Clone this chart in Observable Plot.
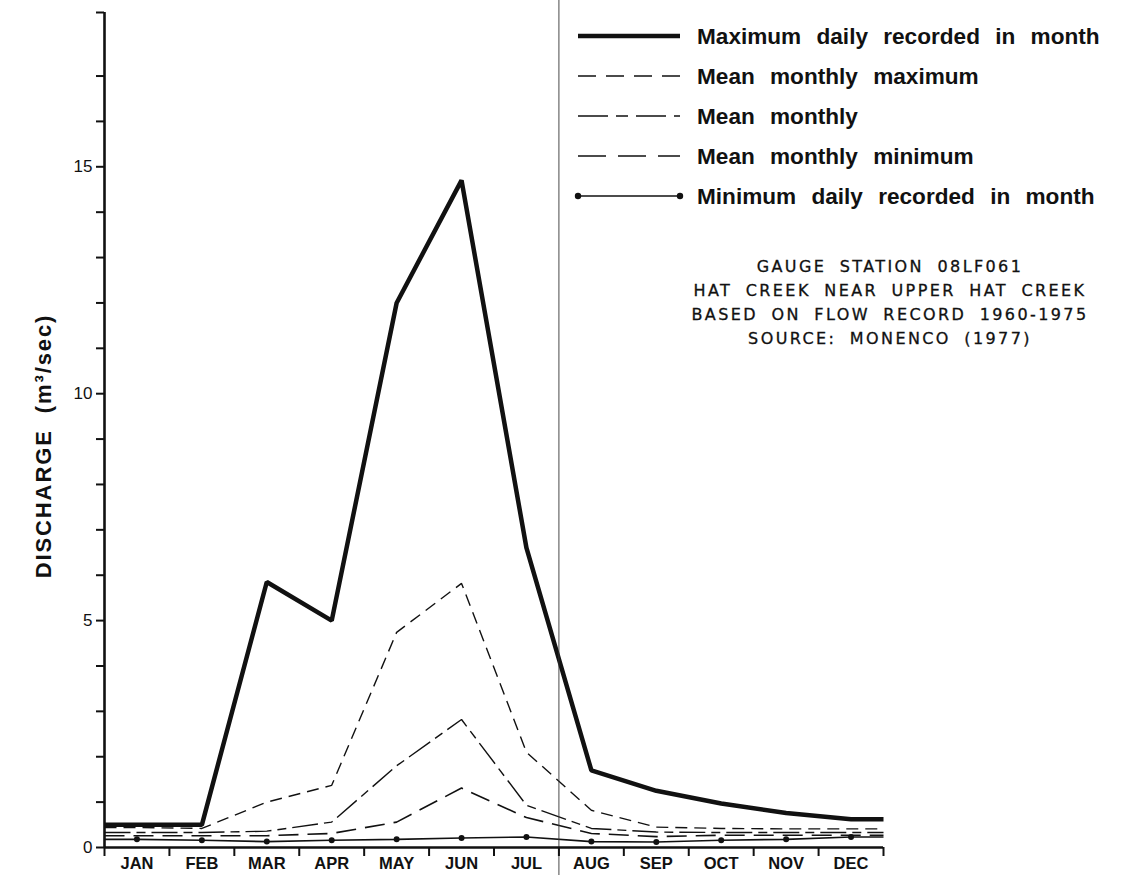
<!DOCTYPE html>
<html><head><meta charset="utf-8">
<script src="https://cdn.jsdelivr.net/npm/d3@7"></script>
<script src="https://cdn.jsdelivr.net/npm/@observablehq/plot@0.6"></script>
<style>
html,body{margin:0;padding:0;background:#fff;}
#wrap{position:relative;width:1144px;height:875px;overflow:hidden;}
#wrap svg{display:block;}
#overlay{position:absolute;left:0;top:0;pointer-events:none;}
</style></head>
<body><div id="wrap"></div>
<script>
// ---- data ----
const months = ["JAN","FEB","MAR","APR","MAY","JUN","JUL","AUG","SEP","OCT","NOV","DEC"];
const maxDaily       = [0.50, 0.50, 5.85, 5.00, 12.0, 14.7, 6.60, 1.70, 1.25, 0.97, 0.76, 0.62];
const meanMonthlyMax = [0.44, 0.42, 1.00, 1.37, 4.74, 5.82, 2.10, 0.82, 0.45, 0.42, 0.41, 0.41];
const meanMonthly    = [0.33, 0.33, 0.36, 0.56, 1.80, 2.82, 0.93, 0.42, 0.34, 0.33, 0.33, 0.33];
const meanMonthlyMin = [0.26, 0.26, 0.26, 0.31, 0.56, 1.31, 0.66, 0.31, 0.24, 0.27, 0.27, 0.27];
const minDaily       = [0.18, 0.16, 0.13, 0.16, 0.18, 0.21, 0.23, 0.13, 0.12, 0.16, 0.18, 0.23];
const seriesNames = [
  "Maximum daily recorded in month",
  "Mean monthly maximum",
  "Mean monthly",
  "Mean monthly minimum",
  "Minimum daily recorded in month"
];
const yTickValues = [0,1,2,3,4,5,6,7,8,9,10,11,12,13,14,15,16,17];
const yLabelValues = [0,5,10,15];
const yTop = 18.4;
const noteLines = [
  "GAUGE STATION 08LF061",
  "HAT CREEK NEAR UPPER HAT CREEK",
  "BASED ON FLOW RECORD 1960-1975",
  "SOURCE: MONENCO (1977)"
];
const yTitle = "DISCHARGE  (m\u00B3/sec)";

// ---- styles ----
const seriesArrays = [maxDaily, meanMonthlyMax, meanMonthly, meanMonthlyMin, minDaily];
const styles = [
  {strokeWidth: 4.5, dash: null, legendDash: null},
  {strokeWidth: 1.4, dash: "12,7", legendDash: "18,10"},
  {strokeWidth: 1.4, dash: "26,6,9,6", legendDash: "30,8,12,8"},
  {strokeWidth: 1.6, dash: "20,9", legendDash: "28,12"},
  {strokeWidth: 1.6, dash: null, legendDash: null}
];

// line rows: monthly points, extended flat to the axis edges
function rowsOf(arr) {
  const r = arr.map((v, i) => ({x: i + 1, y: v}));
  return [{x: 0.5, y: arr[0]}, ...r, {x: 12.5, y: arr[arr.length - 1]}];
}
const boundaries = d3.range(0.5, 13, 1);
const monthPos = months.map((m, i) => i + 1);

const W = 1144, H = 875;
const mL = 104, mR = 261, mT = 12, mB = 28;

const marks = [];
seriesArrays.forEach((arr, k) => {
  marks.push(Plot.line(rowsOf(arr), {
    x: "x", y: "y", stroke: "#111", strokeWidth: styles[k].strokeWidth,
    strokeDasharray: styles[k].dash, strokeLinejoin: "miter", strokeLinecap: "butt"
  }));
});
marks.push(Plot.dot(minDaily.map((v, i) => ({x: i + 1, y: v})), {x: "x", y: "y", r: 3, fill: "#111", stroke: "none"}));
// vertical divider
marks.push(Plot.ruleX([7.5], {stroke: "#333", strokeWidth: 0.9, insetTop: -12, insetBottom: -28}));
// axes lines
marks.push(Plot.ruleY([0], {stroke: "#111", strokeWidth: 2.6}));
marks.push(Plot.ruleX([0.5], {stroke: "#111", strokeWidth: 2.6}));
marks.push(Plot.axisY({ticks: [...yTickValues, yTop], tickSize: 8, strokeWidth: 2,
  tickFormat: d => yLabelValues.includes(d) ? String(d) : "", fontSize: 17, tickPadding: 4,
  fontFamily: "Liberation Sans", label: null}));
marks.push(Plot.axisX({ticks: boundaries, tickSize: 9, strokeWidth: 2, tickFormat: () => "", label: null}));
marks.push(Plot.axisX({ticks: monthPos, tickSize: 0, tickPadding: 10, tickFormat: d => months[d - 1],
  fontSize: 16.5, fontWeight: "bold", fontFamily: "Liberation Sans", label: null}));
marks.push(Plot.text([yTitle], {frameAnchor: "left", textAnchor: "middle", rotate: -90, dx: -61, dy: 16,
  fontSize: 22, fontWeight: "bold", fontFamily: "Liberation Sans", fill: "#111"}));

const chart = Plot.plot({
  width: W, height: H,
  marginLeft: mL, marginRight: mR, marginTop: mT, marginBottom: mB,
  style: {background: "#fff", color: "#111", fontFamily: "Liberation Sans"},
  x: {type: "linear", domain: [0.5, 12.5], axis: null},
  y: {type: "linear", domain: [0, yTop], axis: null},
  marks
});
const wrap = document.getElementById("wrap");
wrap.appendChild(chart);
// letter spacing for the y title
d3.select(chart).selectAll("text").filter(function() { return this.textContent === yTitle; })
  .attr("letter-spacing", 1.9);

// ---- legend + note overlay ----
const ov = d3.select(wrap).append("svg").attr("id", "overlay")
  .attr("width", W).attr("height", H);
const lx0 = 578, lx1 = 680, ly0 = 36, ldy = 40;
const lg = ov.append("g");
seriesNames.forEach((name, k) => {
  const y = ly0 + k * ldy;
  lg.append("line").attr("x1", lx0).attr("x2", lx1).attr("y1", y).attr("y2", y)
    .attr("stroke", "#111").attr("stroke-width", styles[k].strokeWidth)
    .attr("stroke-dasharray", styles[k].legendDash);
  if (k === 4) {
    lg.append("circle").attr("cx", lx0).attr("cy", y).attr("r", 3.2).attr("fill", "#111");
    lg.append("circle").attr("cx", lx1).attr("cy", y).attr("r", 3.2).attr("fill", "#111");
  }
  lg.append("text").attr("x", 697).attr("y", y).attr("dy", "0.36em")
    .attr("font-family", "Liberation Sans").attr("font-size", 22.6).attr("font-weight", "bold")
    .attr("word-spacing", 9).attr("fill", "#111").text(name);
});
const ng = ov.append("g");
noteLines.forEach((t, i) => {
  ng.append("text").attr("x", 890).attr("y", 266 + i * 24).attr("dy", "0.36em")
    .attr("text-anchor", "middle").attr("font-family", "DejaVu Sans").attr("font-size", 16)
    .attr("letter-spacing", 2.4).attr("word-spacing", 6).attr("fill", "#111")
    .attr("stroke", "#111").attr("stroke-width", 0.3).text(t);
});
</script>
</body></html>
